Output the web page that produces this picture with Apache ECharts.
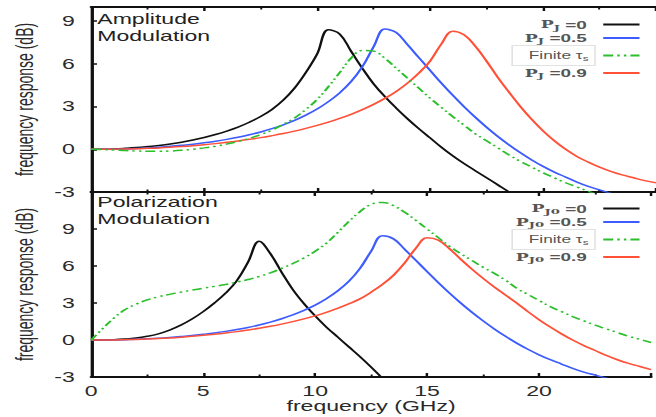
<!DOCTYPE html>
<html>
<head>
<meta charset="utf-8">
<title>frequency response</title>
<script src="https://cdn.jsdelivr.net/npm/echarts@6/dist/echarts.min.js"></script>
<style>
  html, body { margin: 0; padding: 0; background: #fff; overflow: hidden; }
  /* the source figure is stretched sideways, so lay out narrow and widen it */
  #chart { width: 398px; height: 417px; transform: scaleX(1.6482); transform-origin: 0 0; }
</style>
</head>
<body>
<div id="chart"></div>
<script>
// frequency grid (GHz)
const freq = [0, 0.5, 1, 1.5, 2, 2.5, 3, 3.5, 4, 4.5, 5, 5.5, 6, 6.5, 7, 7.5, 8, 8.5, 9, 9.5,
  10, 10.5, 11, 11.5, 12, 12.5, 13, 13.5, 14, 14.5, 15, 15.5, 16, 16.5, 17, 17.5, 18, 18.5, 19, 19.5,
  20, 20.5, 21, 21.5, 22, 22.5, 23, 23.5, 24, 24.5, 25];

const yTicksTop = [-3, 0, 3, 6, 9];
const yTicksBottom = [-3, 0, 3, 6, 9];
const xTicks = [0, 5, 10, 15, 20];

// amplitude modulation (dB)
const amPJ0 = [0, 0.01, 0.03, 0.07, 0.12, 0.19, 0.27, 0.37, 0.5, 0.65, 0.83, 1.04, 1.28, 1.56, 1.9, 2.3,
  2.8, 3.45, 4.3, 5.4, 6.7, 8.4, 8.1, 6.9, 5.7, 4.6, 3.7, 2.9, 2.15, 1.45, 0.8, 0.15, -0.45, -1.0, -1.5,
  -2.0, -2.5, -3.0, -3.45, -3.9, -4.3, -4.7, -5.1, -5.5, -5.9, -6.3, -6.7, -7.1, -7.5, -7.9, -8.3];
const amPJ05 = [0, 0, 0.01, 0.03, 0.06, 0.1, 0.15, 0.21, 0.28, 0.36, 0.46, 0.57, 0.7, 0.85, 1.02, 1.22,
  1.45, 1.72, 2.03, 2.4, 2.83, 3.35, 3.97, 4.75, 5.8, 7.2, 8.45, 8.2, 7.35, 6.45, 5.55, 4.65, 3.8, 3.0, 2.25,
  1.55, 0.9, 0.3, -0.25, -0.75, -1.2, -1.6, -1.95, -2.3, -2.6, -2.85, -3.1, -3.35, -3.6, -3.85, -4.1];
const amFinite = [0, -0.02, -0.05, -0.09, -0.12, -0.14, -0.14, -0.12, -0.07, 0, 0.1, 0.22, 0.37, 0.55,
  0.77, 1.03, 1.35, 1.75, 2.2, 2.8, 3.5, 4.4, 5.4, 6.4, 6.95, 6.9, 6.4, 5.7, 5.0, 4.3, 3.6, 2.95, 2.3, 1.7,
  1.1, 0.6, 0.1, -0.4, -0.85, -1.25, -1.65, -2.0, -2.35, -2.65, -2.95, -3.25, -3.55, -3.85, -4.15, -4.45, -4.75];
const amPJ09 = [0, 0, 0.01, 0.02, 0.04, 0.07, 0.1, 0.14, 0.19, 0.25, 0.32, 0.4, 0.49, 0.59, 0.7, 0.82,
  0.96, 1.11, 1.28, 1.47, 1.68, 1.91, 2.17, 2.46, 2.79, 3.16, 3.58, 4.07, 4.65, 5.35, 6.2, 7.4, 8.3, 8.05,
  7.25, 6.2, 5.05, 4.0, 3.0, 2.1, 1.3, 0.6, 0, -0.5, -0.9, -1.25, -1.55, -1.8, -2.0, -2.2, -2.35];

// polarization modulation (dB)
const pmPJ0 = [0, 0.01, 0.03, 0.08, 0.16, 0.3, 0.5, 0.8, 1.2, 1.7, 2.3, 3.0, 3.8, 4.8, 6.3, 8.0, 7.0,
  5.5, 4.1, 2.95, 1.95, 1.05, 0.25, -0.55, -1.35, -2.2, -3.1, -4.0, -4.9, -5.8, -6.7, -7.6, -8.5, -9.4,
  -10.3, -11.2, -12, -12.8, -13.6, -14.4, -15.2, -16, -16.8, -17.6, -18.4, -19.2, -20, -20.8, -21.6, -22.4, -23.2];
const pmPJ05 = [0, 0, 0.01, 0.03, 0.06, 0.1, 0.15, 0.21, 0.28, 0.36, 0.46, 0.57, 0.7, 0.85, 1.02, 1.22,
  1.45, 1.72, 2.03, 2.4, 2.83, 3.35, 3.97, 4.75, 5.8, 7.2, 8.45, 8.2, 7.35, 6.45, 5.55, 4.65, 3.8, 3.0, 2.25,
  1.55, 0.9, 0.3, -0.25, -0.75, -1.2, -1.6, -1.95, -2.3, -2.6, -2.85, -3.1, -3.35, -3.6, -3.85, -4.1];
const pmFinite = [0, 0.9, 1.75, 2.45, 2.9, 3.25, 3.5, 3.7, 3.88, 4.04, 4.2, 4.35, 4.5, 4.7, 4.9, 5.15,
  5.45, 5.8, 6.2, 6.65, 7.2, 7.85, 8.7, 9.6, 10.4, 11.0, 11.15, 10.9, 10.35, 9.7, 9.0, 8.3, 7.6, 7.0, 6.45,
  5.9, 5.4, 4.85, 4.2, 3.7, 3.2, 2.7, 2.3, 1.9, 1.55, 1.2, 0.9, 0.6, 0.3, 0.05, -0.2];
const pmPJ09 = [0, 0, 0.01, 0.03, 0.05, 0.08, 0.12, 0.17, 0.23, 0.3, 0.38, 0.47, 0.57, 0.68, 0.81, 0.95,
  1.11, 1.29, 1.49, 1.71, 1.96, 2.24, 2.56, 2.92, 3.33, 3.88, 4.5, 5.25, 6.25, 7.45, 8.3, 8.1, 7.4, 6.55, 5.75,
  5.0, 4.3, 3.65, 3.0, 2.3, 1.65, 1.05, 0.5, 0, -0.45, -0.85, -1.25, -1.6, -1.9, -2.15, -2.4];

const colors = { black: "#111111", blue: "#3d5cff", green: "#2cbf2c", red: "#ff5038" };
const dashDot = [6, 2.5, 1.5, 2.5, 1.5, 2.5];

const legendText = {
  "PJ=0": "{p|P}{s|J}{v| =0}",
  "PJ=0.5": "{p|P}{s|J}{v| =0.5}",
  "PJ=0.9": "{p|P}{s|J}{v| =0.9}",
  "PJ0=0": "{p|P}{s|J0}{v| =0}",
  "PJ0=0.5": "{p|P}{s|J0}{v| =0.5}",
  "PJ0=0.9": "{p|P}{s|J0}{v| =0.9}",
  "Finite AM": "{f|Finite τ}{fs|s}",
  "Finite PM": "{f|Finite τ}{fs|s}",
};

const pairs = (vals) => freq.map((f, i) => [f, vals[i]]);

const chart = echarts.init(document.getElementById("chart"), null, { renderer: "svg" });

const axisColor = "#111";
const labelColor = "#2a2a2a";

function xAxis(gridIndex, position, withLabels) {
  return {
    type: "value",
    gridIndex,
    position,
    min: 0,
    max: 25,
    interval: 5,
    axisLine: { onZero: false, lineStyle: { color: axisColor, width: 2 } },
    axisTick: { inside: true, length: 4, lineStyle: { color: axisColor, width: 1.5 } },
    minorTick: { show: true, splitNumber: 2, length: 2.5, lineStyle: { color: axisColor, width: 1.2 } },
    splitLine: { show: false },
    axisLabel: {
      show: withLabels,
      margin: 7,
      fontSize: 14,
      color: labelColor,
      formatter: (v) => (xTicks.includes(v) ? String(v) : ""),
    },
    name: withLabels ? "frequency (GHz)" : "",
    nameLocation: "middle",
    nameGap: 21,
    nameTextStyle: { fontSize: 14, color: labelColor },
  };
}

function yAxis(gridIndex, max, ticks) {
  return {
    type: "value",
    gridIndex,
    min: -3,
    max,
    interval: 3,
    axisLine: { onZero: false, lineStyle: { color: axisColor, width: 2 } },
    axisTick: { inside: true, length: 3.5, lineStyle: { color: axisColor, width: 1.5 } },
    splitLine: { show: false },
    axisLabel: {
      showMaxLabel: false,
      margin: 10,
      fontSize: 14,
      color: labelColor,
      formatter: (v) => (ticks.includes(v) ? String(v) : ""),
    },
    name: "frequency response (dB)",
    nameLocation: "middle",
    nameGap: 24,
    nameTextStyle: { fontSize: 14, color: labelColor },
  };
}

function curve(name, vals, color, axisIdx, dashed) {
  return {
    name,
    type: "line",
    xAxisIndex: axisIdx * 2,
    yAxisIndex: axisIdx,
    data: pairs(vals),
    smooth: 0.4,
    showSymbol: false,
    symbol: "none",
    lineStyle: { color, width: 1.5, type: dashed ? dashDot : "solid" },
    itemStyle: { color },
    z: dashed ? 3 : 2,
  };
}

const legendRich = {
  p: { fontFamily: "DejaVu Serif", fontWeight: "bold", fontSize: 10.5, color: "#555", lineHeight: 13 },
  s: { fontFamily: "DejaVu Serif", fontWeight: "bold", fontSize: 8, color: "#555", verticalAlign: "bottom", lineHeight: 8 },
  v: { fontFamily: "Liberation Sans", fontWeight: "bold", fontSize: 11.5, color: "#555", lineHeight: 13 },
  f: { fontFamily: "Liberation Sans", fontSize: 10.5, color: "#555", lineHeight: 13 },
  fs: { fontFamily: "Liberation Sans", fontSize: 7, color: "#555", verticalAlign: "bottom", lineHeight: 8 },
};
const finiteBox = { borderColor: "#e2e2e2", borderWidth: 1, padding: [3.5, 4, 3.5, 10] };

function legend(top, names) {
  return {
    orient: "vertical",
    align: "right",
    right: 4,
    top,
    itemWidth: 22,
    itemHeight: 13,
    itemGap: 0.5,
    selectedMode: false,
    itemStyle: { opacity: 0 },
    formatter: (n) => legendText[n],
    textStyle: { padding: [0, 5, 0, 0], lineHeight: 13, rich: legendRich },
    data: names.map((n) => (n.startsWith("Finite") ? { name: n, textStyle: finiteBox } : { name: n })),
  };
}

const titleStyle = { fontSize: 14, fontWeight: "normal", lineHeight: 17, color: "#222" };

const option = {
  backgroundColor: "#ffffff",
  animation: false,
  textStyle: { fontFamily: "Liberation Sans" },
  title: [
    { text: "Amplitude\nModulation", left: 59, top: 11, padding: 0, textStyle: titleStyle },
    { text: "Polarization\nModulation", left: 59, top: 194, padding: 0, textStyle: titleStyle },
  ],
  grid: [
    { left: 48, top: 7, width: 352, height: 185 },
    { left: 48, top: 192, width: 352, height: 185 },
  ],
  xAxis: [xAxis(0, "bottom", false), xAxis(0, "top", false), xAxis(1, "bottom", true), xAxis(1, "top", false)],
  yAxis: [yAxis(0, 10, yTicksTop), yAxis(1, 12, yTicksBottom)],
  legend: [
    legend(13, ["PJ=0", "PJ=0.5", "Finite AM", "PJ=0.9"]),
    legend(197, ["PJ0=0", "PJ0=0.5", "Finite PM", "PJ0=0.9"]),
  ],
  series: [
    curve("PJ=0", amPJ0, colors.black, 0, false),
    curve("PJ=0.5", amPJ05, colors.blue, 0, false),
    curve("Finite AM", amFinite, colors.green, 0, true),
    curve("PJ=0.9", amPJ09, colors.red, 0, false),
    curve("PJ0=0", pmPJ0, colors.black, 1, false),
    curve("PJ0=0.5", pmPJ05, colors.blue, 1, false),
    curve("Finite PM", pmFinite, colors.green, 1, true),
    curve("PJ0=0.9", pmPJ09, colors.red, 1, false),
  ],
};

chart.setOption(option);
window.addEventListener("resize", () => chart.resize());
</script>
</body>
</html>
